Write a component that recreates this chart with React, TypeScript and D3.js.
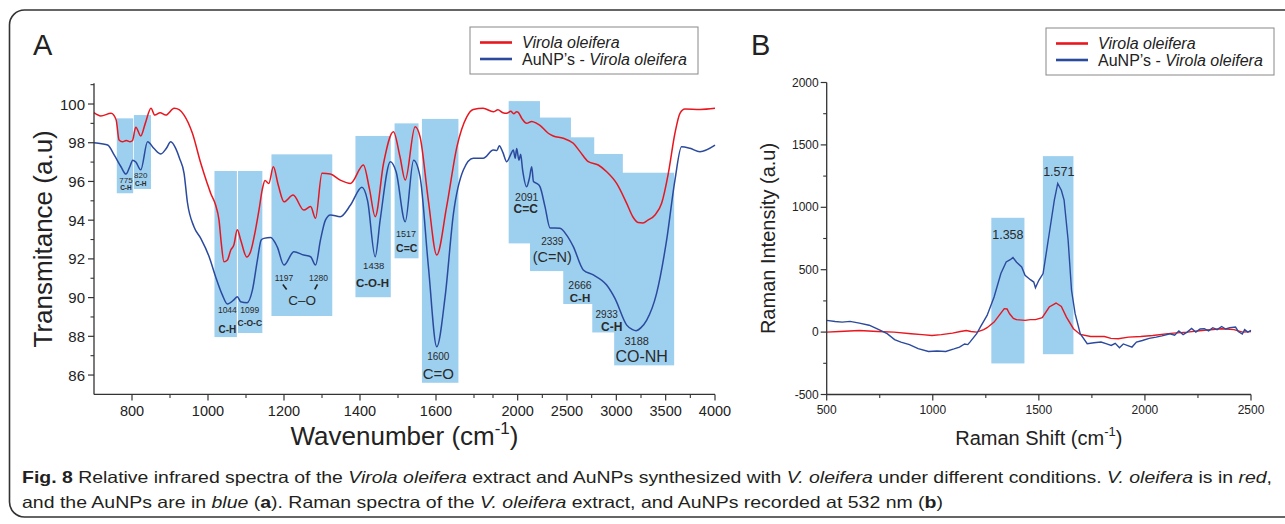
import React from "react";
import * as d3 from "d3";

// ---------- Panel A: IR spectra (wavenumber, transmittance) ----------
const irVirola: [number, number][] = [
  [700, 99.55], [718, 99.38], [745, 99.52], [758, 99.2], [766, 98.14], [775, 98.05], [785, 98.12], [795, 98.05],
  [801, 98.1], [810, 98.8], [823, 98.35], [835, 99.0], [850, 99.78], [860, 99.43], [874, 99.55], [889, 99.43],
  [911, 99.78], [925, 99.7], [937, 99.43], [959, 98.49], [981, 96.94], [998, 95.9], [1007, 95.39], [1020, 94.78],
  [1029, 94.0], [1035, 92.8], [1042, 91.85], [1051, 91.94], [1060, 92.46], [1068, 92.72], [1077, 93.5], [1086, 92.98],
  [1102, 92.1], [1112, 92.37], [1125, 93.5], [1134, 94.5], [1143, 95.6], [1150, 96.05], [1160, 95.9], [1172, 96.76],
  [1185, 95.8], [1200, 94.95], [1224, 95.3], [1252, 94.52], [1270, 94.7], [1283, 94.1], [1300, 96.42], [1322, 96.38],
  [1348, 96.07], [1375, 95.9], [1409, 96.85], [1425, 95.6], [1440, 94.18], [1462, 96.94], [1488, 98.57], [1505, 97.3],
  [1519, 96.07], [1545, 98.83], [1558, 98.31], [1580, 95.0], [1602, 92.2], [1628, 94.7], [1655, 97.79], [1681, 99.34],
  [1698, 99.72], [1724, 99.78], [1753, 99.6], [1800, 99.7], [1850, 99.55], [1889, 99.52], [1930, 99.62], [1960, 99.5],
  [1990, 99.6], [2006, 99.57], [2041, 99.26], [2091, 99.0], [2142, 99.1], [2193, 99.0], [2226, 98.9], [2310, 98.49],
  [2361, 98.35], [2462, 98.23], [2564, 97.97], [2632, 97.54], [2716, 97.02], [2817, 96.85], [2902, 96.5], [3003, 95.9],
  [3105, 94.87], [3170, 94.15], [3220, 93.88], [3270, 93.86], [3320, 94.0], [3392, 94.27], [3459, 94.87], [3527, 96.42],
  [3594, 98.49], [3645, 99.52], [3695, 99.74], [3850, 99.72], [4000, 99.78],
];

const irAuNP: [number, number][] = [
  [700, 98.0], [720, 97.95], [736, 97.88], [753, 97.37], [771, 96.76], [784, 96.38], [795, 96.8], [802, 97.1],
  [810, 97.0], [823, 96.6], [841, 98.05], [858, 97.7], [876, 97.42], [890, 97.7], [902, 98.05], [915, 97.71],
  [925, 97.2], [937, 96.42], [946, 94.9], [963, 93.66], [981, 93.06], [1003, 92.11], [1020, 91.08], [1038, 90.13],
  [1051, 89.67], [1068, 89.88], [1077, 90.05], [1086, 89.79], [1103, 89.74], [1117, 90.4], [1130, 91.94], [1140, 92.98],
  [1147, 93.06], [1165, 93.11], [1182, 92.63], [1200, 91.68], [1226, 92.37], [1252, 92.2], [1270, 92.11], [1283, 91.68],
  [1296, 92.98], [1309, 94.0], [1322, 94.27], [1348, 94.18], [1375, 94.78], [1405, 95.7], [1420, 95.0], [1440, 92.11],
  [1453, 94.0], [1480, 97.02], [1495, 96.5], [1519, 93.92], [1541, 97.1], [1558, 96.25], [1580, 91.6], [1602, 87.46],
  [1624, 90.05], [1646, 94.35], [1672, 96.59], [1698, 97.2], [1724, 97.2], [1753, 97.62], [1790, 97.6], [1814, 97.85],
  [1850, 97.5], [1889, 97.02], [1930, 97.4], [1956, 97.62], [1975, 97.2], [1990, 97.7], [2013, 97.1], [2030, 97.4],
  [2050, 96.6], [2091, 95.73], [2120, 96.2], [2142, 96.76], [2160, 96.0], [2193, 95.9], [2226, 95.73], [2277, 94.7],
  [2328, 93.6], [2429, 93.58], [2500, 93.2], [2564, 92.63], [2665, 91.43], [2767, 91.17], [2902, 90.65], [2986, 89.96],
  [3105, 88.58], [3160, 88.36], [3200, 88.29], [3250, 88.45], [3308, 88.84], [3408, 90.22], [3510, 92.98], [3594, 96.07],
  [3661, 97.79], [3746, 97.71], [3847, 97.54], [4000, 97.88],
];

// highlighted IR bands: [from, to, bottom, top]
const irBands: [number, number, number, number][] = [
  [760, 803, 95.39, 99.26], [805, 850, 95.61, 99.43], [1017, 1076, 87.96, 96.54], [1079, 1143, 88.17, 96.54],
  [1167, 1327, 89.05, 97.4], [1388, 1481, 90.02, 98.35], [1491, 1554, 92.03, 99.0], [1563, 1659, 85.6, 99.23],
  [1909, 2226, 92.8, 100.15], [2125, 2540, 91.37, 99.3], [2462, 2776, 89.67, 98.28], [2756, 3066, 88.2, 97.42],
  [2978, 3586, 86.5, 96.45],
];

// band labels: [wavenumber, transmittance, text, size, weight]
const irLabels: [number, number, string, number, number][] = [
  [784, 96.07, "775", 8, 400], [784, 95.68, "C-H", 6.5, 700],
  [823, 96.33, "820", 8, 400], [823, 95.87, "C-H", 6.5, 700],
  [1051, 89.36, "1044", 8.5, 400], [1051, 88.33, "C-H", 10, 600],
  [1110, 89.36, "1099", 8.5, 400], [1110, 88.7, "C-O-C", 8.5, 600],
  [1200, 91.03, "1197", 8.5, 400], [1291, 91.03, "1280", 8.5, 400],
  [1248, 89.84, "C\u2013O", 13.5, 400],
  [1436, 91.65, "1438", 9.5, 400], [1433, 90.74, "C-O-H", 11.5, 600],
  [1521, 93.29, "1517", 9, 400], [1523, 92.55, "C=C", 10.5, 600],
  [1606, 86.95, "1600", 10, 400], [1606, 86.09, "C=O", 15, 400],
  [2092, 95.18, "2091", 10.5, 400], [2081, 94.56, "C=C", 12, 600],
  [2351, 92.91, "2339", 10, 400], [2351, 92.11, "(C=N)", 14.5, 400],
  [2632, 90.65, "2666", 10.5, 400], [2632, 90.0, "C-H", 11.5, 600],
  [2902, 89.15, "2933", 10, 400], [2953, 88.5, "C-H", 12, 600],
  [3206, 87.77, "3188", 11, 400], [3257, 86.95, "CO-NH", 16, 400],
];
// small arrow marks pointing to C–O: [x1, y1, x2, y2]
const irMarks: [number, number, number, number][] = [
  [1197, 90.68, 1207, 90.42], [1288, 90.68, 1281, 90.42],
];

const irMajorTicks = [800, 1000, 1200, 1400, 1600, 2000, 2500, 3000, 3500, 4000];
const irMinorTicks = [900, 1100, 1300, 1500, 1700, 1750, 2250, 2750, 3250, 3750];
const irYTicks = [86, 88, 90, 92, 94, 96, 98, 100];
const irYMinor = [87, 89, 91, 93, 95, 97, 99, 101];

// ---------- Panel B: Raman spectra (shift, intensity) ----------
const ramanVirola: [number, number][] = [
  [500, 0], [560, 5], [654, 13], [740, 5], [817, 0], [898, -13], [950, -20], [996, -27], [1040, -20], [1093, -8],
  [1130, 5], [1158, 13], [1180, 5], [1207, 0], [1240, 20], [1256, 35], [1289, 80], [1313, 134], [1337, 188],
  [1350, 185], [1362, 147], [1380, 110], [1394, 100], [1435, 94], [1460, 100], [1484, 100], [1516, 116], [1549, 201],
  [1581, 233], [1606, 206], [1630, 120], [1663, 27], [1695, -19], [1744, -35], [1809, -35], [1840, -50], [1874, -53],
  [1923, -40], [1980, -35], [2037, -27], [2120, -10], [2199, 0], [2280, 15], [2362, 27], [2420, 20], [2460, 0], [2500, 5],
];
const ramanAuNP: [number, number][] = [
  [500, 94], [540, 85], [573, 80], [610, 86], [654, 72], [700, 55], [736, 27], [785, -13], [820, -60], [850, -80],
  [890, -100], [931, -133], [980, -155], [1020, -152], [1061, -155], [1100, -135], [1126, -120], [1150, -95],
  [1165, -100], [1175, -80], [1207, -13], [1224, 40], [1256, 134], [1289, 281], [1321, 469], [1346, 562], [1365, 580],
  [1378, 597], [1395, 560], [1419, 522], [1435, 455], [1460, 420], [1476, 401], [1484, 356], [1500, 415], [1520, 469],
  [1549, 790], [1573, 1057], [1589, 1191], [1606, 1137], [1619, 1057], [1638, 736], [1654, 335], [1671, 148],
  [1695, -13], [1728, -93], [1760, -85], [1793, -80], [1820, -95], [1841, -107], [1860, -90], [1880, -125], [1898, -95],
  [1939, -120], [1960, -80], [1988, -67], [2020, -50], [2053, -40], [2080, -30], [2118, -13], [2140, -25], [2160, 10],
  [2180, -20], [2199, 0], [2220, 30], [2240, 0], [2260, 25], [2280, 27], [2300, 10], [2320, 35], [2340, 20], [2362, 45],
  [2380, 25], [2400, 35], [2427, 40], [2440, 5], [2459, -15], [2470, 20], [2485, 0], [2500, 13],
];
const ramanBands: [number, number, number, number][] = [
  [1276, 1432, -251, 916], [1519, 1663, -177, 1410],
];
const ramanLabels: [number, number, string][] = [
  [1354, 776, "1.358"], [1594, 1284, "1.571"],
];
const ramanXTicks = [500, 1000, 1500, 2000, 2500];
const ramanXMinor = [750, 1250, 1750, 2250];
const ramanYTicks = [-500, 0, 500, 1000, 1500, 2000];
const ramanYMinor = [-250, 250, 750, 1250, 1750];

const seriesNames = ["Virola oleifera", "AuNP\u2019s - "];

const RED = "#e8161f";
const BLUE = "#2b4a9e";
const BAND = "#9dcfef";
const INK = "#222";
const FONT = "'Liberation Sans', Arial, Helvetica, sans-serif";

export default function App() {
  const xA = d3.scaleLinear().domain([700, 1750, 4000]).range([94, 493, 715]);
  const yA = d3.scaleLinear().domain([85, 101.07]).range([394.4, 83.3]);
  const xB = d3.scaleLinear().domain([500, 2500]).range([826.7, 1251]);
  const yB = d3.scaleLinear().domain([-500, 2000]).range([394.5, 82.5]);

  const lineA = d3.line<[number, number]>().x((d) => xA(d[0])).y((d) => yA(d[1])).curve(d3.curveMonotoneX);
  const lineB = d3.line<[number, number]>().x((d) => xB(d[0])).y((d) => yB(d[1])).curve(d3.curveLinear);

  const axA0 = xA(700), ayA0 = yA(85);
  const axB0 = xB(500), ayB0 = yB(-500);

  const legend = (x0: number, y0: number) => (
    <g>
      <rect x={x0} y={y0} width={228} height={47} fill="#fff" stroke="#888" strokeWidth={1} />
      <line x1={x0 + 10} x2={x0 + 42} y1={y0 + 15.5} y2={y0 + 15.5} stroke={RED} strokeWidth={2.6} />
      <line x1={x0 + 10} x2={x0 + 42} y1={y0 + 32} y2={y0 + 32} stroke={BLUE} strokeWidth={2.6} />
      <text x={x0 + 52} y={y0 + 21} fontSize={16} fontStyle="italic" fill={INK}>{seriesNames[0]}</text>
      <text x={x0 + 52} y={y0 + 38} fontSize={16} fill={INK}>
        {seriesNames[1]}<tspan fontStyle="italic">{seriesNames[0]}</tspan>
      </text>
    </g>
  );

  return (
    <svg width={1285} height={524} style={{ position: "absolute", left: 0, top: 0, background: "#fff" }} fontFamily={FONT}>
      <rect x={9.5} y={10} width={1300} height={507} rx={15} ry={15} fill="#fff" stroke="#333" strokeWidth={1.6} />

      {/* ---------------- Panel A ---------------- */}
      <text x={33} y={55} fontSize={29} fill={INK}>A</text>
      {irBands.map((b, i) => (
        <rect key={i} x={xA(b[0])} y={yA(b[3])} width={xA(b[1]) - xA(b[0])} height={yA(b[2]) - yA(b[3])} fill={BAND} />
      ))}
      <path d={lineA(irVirola) || ""} fill="none" stroke={RED} strokeWidth={1.5} />
      <path d={lineA(irAuNP) || ""} fill="none" stroke={BLUE} strokeWidth={1.5} />
      {irLabels.map((l, i) => (
        <text key={i} x={xA(l[0])} y={yA(l[1])} fontSize={l[3]} fontWeight={l[4]} textAnchor="middle" dominantBaseline="central" fill="#2a2a2a">{l[2]}</text>
      ))}
      {irMarks.map((m, i) => (
        <line key={i} x1={xA(m[0])} y1={yA(m[1])} x2={xA(m[2])} y2={yA(m[3])} stroke="#222" strokeWidth={1.6} />
      ))}
      {/* axes A */}
      <line x1={axA0} x2={axA0} y1={yA(101.07)} y2={ayA0} stroke="#333" strokeWidth={1.3} />
      <line x1={axA0} x2={xA(4000)} y1={ayA0} y2={ayA0} stroke="#333" strokeWidth={1.3} />
      {irYTicks.map((t) => (
        <g key={t}>
          <line x1={axA0 - 6} x2={axA0} y1={yA(t)} y2={yA(t)} stroke="#333" strokeWidth={1.2} />
          <text x={axA0 - 9} y={yA(t)} fontSize={15} textAnchor="end" dominantBaseline="central" fill={INK}>{t}</text>
        </g>
      ))}
      {irYMinor.map((t) => (
        <line key={t} x1={axA0 - 3.5} x2={axA0} y1={yA(t)} y2={yA(t)} stroke="#333" strokeWidth={1.1} />
      ))}
      {irMajorTicks.map((t) => (
        <g key={t}>
          <line x1={xA(t)} x2={xA(t)} y1={ayA0} y2={ayA0 + 6} stroke="#333" strokeWidth={1.2} />
          <text x={xA(t)} y={ayA0 + 17} fontSize={14.5} textAnchor="middle" dominantBaseline="central" fill={INK}>{t}</text>
        </g>
      ))}
      {irMinorTicks.map((t) => (
        <line key={t} x1={xA(t)} x2={xA(t)} y1={ayA0} y2={ayA0 + 3.5} stroke="#333" strokeWidth={1.1} />
      ))}
      <text transform={`translate(52,${(yA(101.07) + ayA0) / 2}) rotate(-90)`} fontSize={26} textAnchor="middle" fill={INK}>Transmitance (a.u)</text>
      <text x={(axA0 + xA(4000)) / 2} y={445} fontSize={26} textAnchor="middle" fill={INK}>
        Wavenumber (cm<tspan dy={-11} fontSize={17}>-1</tspan><tspan dy={11}>)</tspan>
      </text>
      {legend(470, 27)}

      {/* ---------------- Panel B ---------------- */}
      <text x={751} y={55} fontSize={29} fill={INK}>B</text>
      {ramanBands.map((b, i) => (
        <rect key={i} x={xB(b[0])} y={yB(b[3])} width={xB(b[1]) - xB(b[0])} height={yB(b[2]) - yB(b[3])} fill={BAND} />
      ))}
      <path d={lineB(ramanVirola) || ""} fill="none" stroke={RED} strokeWidth={1.4} />
      <path d={lineB(ramanAuNP) || ""} fill="none" stroke={BLUE} strokeWidth={1.4} />
      {ramanLabels.map((l, i) => (
        <text key={i} x={xB(l[0])} y={yB(l[1])} fontSize={12.5} textAnchor="middle" dominantBaseline="central" fill="#2a2a2a">{l[2]}</text>
      ))}
      <line x1={axB0} x2={axB0} y1={yB(2000)} y2={ayB0} stroke="#333" strokeWidth={1.3} />
      <line x1={axB0} x2={xB(2500)} y1={ayB0} y2={ayB0} stroke="#333" strokeWidth={1.3} />
      {ramanYTicks.map((t) => (
        <g key={t}>
          <line x1={axB0 - 6} x2={axB0} y1={yB(t)} y2={yB(t)} stroke="#333" strokeWidth={1.2} />
          <text x={axB0 - 8} y={yB(t)} fontSize={12} textAnchor="end" dominantBaseline="central" fill={INK}>{t}</text>
        </g>
      ))}
      {ramanYMinor.map((t) => (
        <line key={t} x1={axB0 - 3.5} x2={axB0} y1={yB(t)} y2={yB(t)} stroke="#333" strokeWidth={1.1} />
      ))}
      {ramanXTicks.map((t) => (
        <g key={t}>
          <line x1={xB(t)} x2={xB(t)} y1={ayB0} y2={ayB0 + 6} stroke="#333" strokeWidth={1.2} />
          <text x={xB(t)} y={ayB0 + 15} fontSize={12} textAnchor="middle" dominantBaseline="central" fill={INK}>{t}</text>
        </g>
      ))}
      {ramanXMinor.map((t) => (
        <line key={t} x1={xB(t)} x2={xB(t)} y1={ayB0} y2={ayB0 + 3.5} stroke="#333" strokeWidth={1.1} />
      ))}
      <text transform={`translate(775,${(yB(2000) + ayB0) / 2}) rotate(-90)`} fontSize={20} textAnchor="middle" fill={INK}>Raman Intensity (a.u)</text>
      <text x={(axB0 + xB(2500)) / 2} y={445} fontSize={20} textAnchor="middle" fill={INK}>
        Raman Shift (cm<tspan dy={-9} fontSize={13}>-1</tspan><tspan dy={9}>)</tspan>
      </text>
      {legend(1046, 28)}

      {/* ---------------- Caption ---------------- */}
      <text x={22} y={483} fontSize={16.5} fill="#231f20" textLength={1250} lengthAdjust="spacingAndGlyphs" fontFamily="'Liberation Sans Narrow', 'Liberation Sans', Arial, sans-serif">
        <tspan fontWeight={700}>Fig. 8</tspan> Relative infrared spectra of the <tspan fontStyle="italic">Virola oleifera</tspan> extract and AuNPs synthesized with <tspan fontStyle="italic">V. oleifera</tspan> under different conditions. <tspan fontStyle="italic">V. oleifera</tspan> is in <tspan fontStyle="italic">red</tspan>,
      </text>
      <text x={22} y={508} fontSize={16.5} fill="#231f20" textLength={921} lengthAdjust="spacingAndGlyphs" fontFamily="'Liberation Sans Narrow', 'Liberation Sans', Arial, sans-serif">
        and the AuNPs are in <tspan fontStyle="italic">blue</tspan> (<tspan fontWeight={700}>a</tspan>). Raman spectra of the <tspan fontStyle="italic">V. oleifera</tspan> extract, and AuNPs recorded at 532 nm (<tspan fontWeight={700}>b</tspan>)
      </text>
    </svg>
  );
}
